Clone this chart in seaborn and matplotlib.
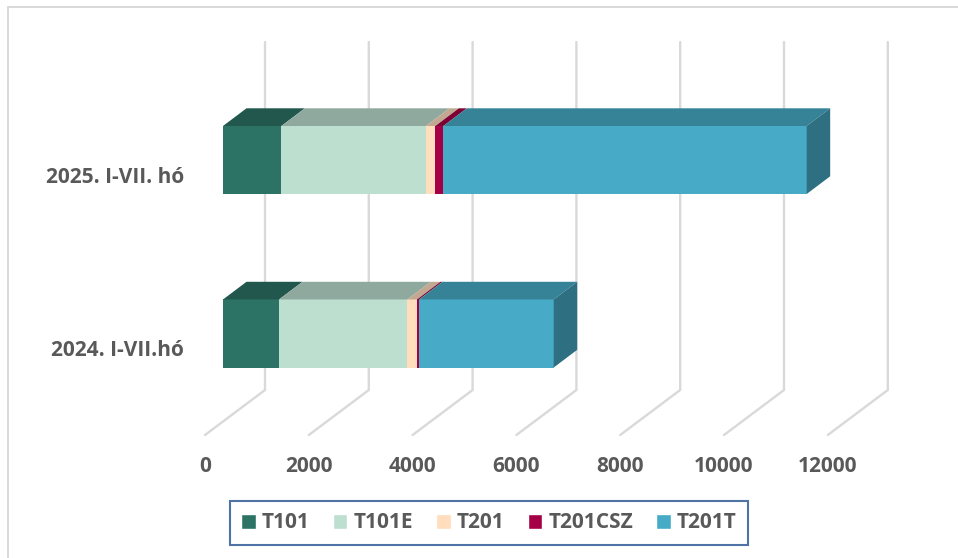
import matplotlib
matplotlib.use("Agg")
import matplotlib.pyplot as plt
from matplotlib.lines import Line2D
from matplotlib.patches import Patch, Polygon
from matplotlib.transforms import ScaledTranslation
import pandas as pd
import seaborn as sns

# values
periods = ["2025. I-VII. hó", "2024. I-VII.hó"]
types = ["T101", "T101E", "T201", "T201CSZ", "T201T"]
t101 = [1125, 1079]
t101e = [2786, 2474]
t201 = [181, 185]
t201csz = [154, 39]
t201t = [7000, 2595]
x_ticks = [0, 2000, 4000, 6000, 8000, 10000, 12000]

colors = ["#2C7365", "#BDDFD0", "#FFDDBD", "#A50045", "#47ABC7"]
grid_color = "#D9D9D9"
text_color = "#595959"

rows = []
for name, vals in zip(types, [t101, t101e, t201, t201csz, t201t]):
    for period, v in zip(periods, vals):
        rows.append({"period": period, "type": name, "value": v})
df = pd.DataFrame(rows)

sns.set_theme(style="white")
plt.rcParams["font.family"] = ["Open Sans", "DejaVu Sans"]

W, H = 958, 558
fig = plt.figure(figsize=(W / 100, H / 100), dpi=100)

# axes box is the plane the bars stand in, in pixels
left, right, top, bottom = 223, 845.8, 42, 421.5
ax = fig.add_axes([left / W, 1 - bottom / H, (right - left) / W, (bottom - top) / H])

# seaborn stacks the first hue last, so the order goes in reverse
sns.histplot(data=df, y="period", hue="type", weights="value", multiple="stack",
             hue_order=types[::-1], palette=dict(zip(types, colors)),
             shrink=0.392, alpha=1, linewidth=0, legend=False, ax=ax)

px_x = 12000 / (right - left)   # data units per pixel
row_px = 173.5
ax.set_xlim(0, 12000)
ax.set_ylim((bottom - 160) / row_px, (top - 160) / row_px)
sns.despine(ax=ax, left=True, bottom=True)
ax.set_xlabel("")
ax.set_ylabel("")
ax.grid(False)
ax.patch.set_alpha(0)


def shade(color, f):
    r, g, b = matplotlib.colors.to_rgb(color)
    return (r * f, g * f, b * f)


# floor lines and back wall lines
for t in x_ticks:
    xs = [t - 18 * px_x, t + 42 * px_x, t + 42 * px_x]
    ys = [(435 - 160) / row_px, (390 - 160) / row_px, (42 - 160) / row_px]
    ax.plot(xs, ys, color=grid_color, lw=1.7, zorder=0.5, clip_on=False,
            solid_joinstyle="miter")

# top and side faces for the bars, colour taken from each bar
dx = 23.5 * px_x
dy = 17.7 / row_px
row_end = {}
for container in ax.containers:
    for bar in container:
        x0, y0 = bar.get_x(), bar.get_y()
        x1, y1 = x0 + bar.get_width(), y0 + bar.get_height()
        ytop, ybot = min(y0, y1), max(y0, y1)
        col = bar.get_facecolor()
        ax.add_patch(Polygon([(x0, ytop), (x1, ytop), (x1 + dx, ytop - dy), (x0 + dx, ytop - dy)],
                             facecolor=shade(col, 0.76), lw=0, zorder=2, clip_on=False))
        if ytop not in row_end or x1 > row_end[ytop][0]:
            row_end[ytop] = (x1, ybot, col)

for ytop, (x1, ybot, col) in row_end.items():
    ax.add_patch(Polygon([(x1, ytop), (x1 + dx, ytop - dy), (x1 + dx, ybot - dy), (x1, ybot)],
                         facecolor=shade(col, 0.65), lw=0, zorder=2, clip_on=False))

ax.set_xticks(x_ticks)
ax.set_xticklabels([str(t) for t in x_ticks])
ax.set_yticks(range(len(periods)))
ax.set_yticklabels(periods)
ax.tick_params(axis="x", length=0, pad=25, labelsize=15, labelcolor=text_color)
ax.tick_params(axis="y", length=0, pad=28, labelsize=15, labelcolor=text_color)
for lab in ax.get_xticklabels():
    lab.set_fontweight("bold")
    lab.set_transform(lab.get_transform() + ScaledTranslation(-18 / 100, 0, fig.dpi_scale_trans))
for lab in ax.get_yticklabels():
    lab.set_fontweight("bold")
    lab.set_transform(lab.get_transform() + ScaledTranslation(0, -15 / 100, fig.dpi_scale_trans))

handles = [Patch(facecolor=c, label=n) for n, c in zip(types, colors)]
leg = fig.legend(handles=handles, loc="center", ncol=5, frameon=True, fancybox=False,
                 bbox_to_anchor=(489 / W, 1 - 523 / H), fontsize=15,
                 handlelength=0.7, handleheight=0.7, handletextpad=0.3,
                 columnspacing=1.1, borderpad=0.55, labelcolor=text_color,
                 edgecolor="#24508F")
leg.get_frame().set_linewidth(1.5)
for txt in leg.get_texts():
    txt.set_fontweight("bold")

# outer chart border, top and left only show
fig.add_artist(Line2D([8 / W, 1], [1 - 7 / H, 1 - 7 / H], color=grid_color, lw=1.4))
fig.add_artist(Line2D([8 / W, 8 / W], [0, 1 - 7 / H], color=grid_color, lw=1.4))

fig.savefig("out.png", dpi=100)
